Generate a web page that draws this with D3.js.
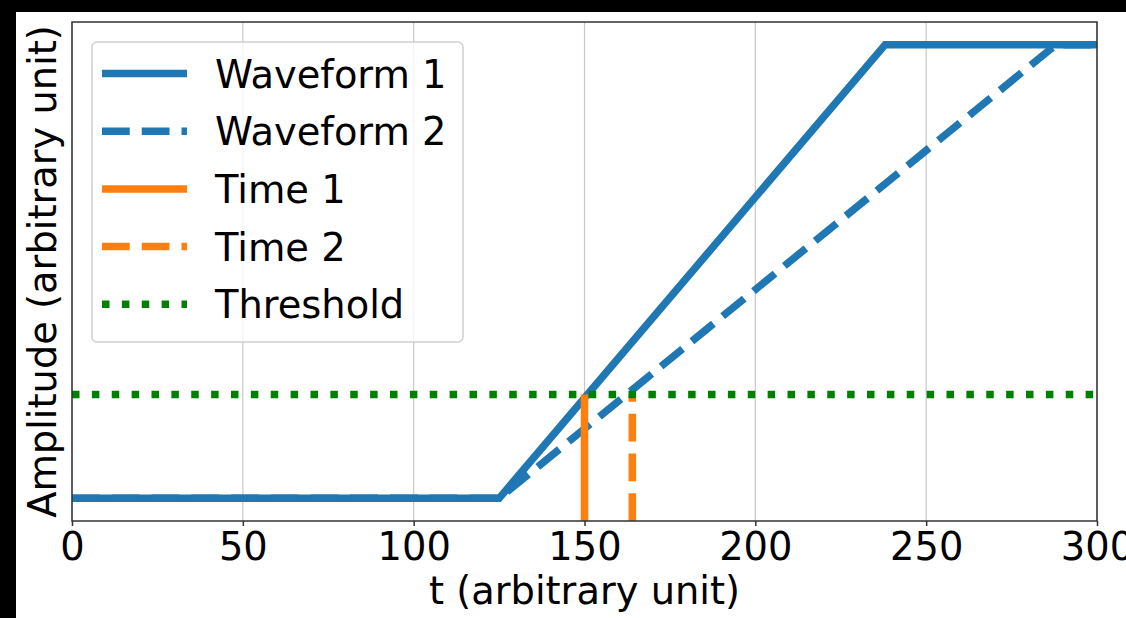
<!DOCTYPE html>
<html>
<head>
<meta charset="utf-8">
<script src="https://cdn.jsdelivr.net/npm/d3@7"></script>
<style>
  html, body { margin: 0; padding: 0; background: #000; }
  svg { display: block; }
</style>
</head>
<body>
<div id="chart"></div>
<script>
  // data
  const wave1T = [0, 125, 238, 300];
  const wave1A = [0, 0, 1, 1];
  const wave2T = [0, 125, 288, 300];
  const wave2A = [0, 0, 1, 1];
  const time1 = 150;
  const time2 = 164;
  const threshold = 0.229;
  const xTicks = [0, 50, 100, 150, 200, 250, 300];
  const legendLabels = ['Waveform 1', 'Waveform 2', 'Time 1', 'Time 2', 'Threshold'];

  const width = 1126;
  const height = 618;
  const [mt, mr, mb, ml] = [22, 29, 97, 72];
  const font = '"DejaVu Sans", sans-serif';
  const fs = '38.4px';
  const blue = '#1f77b4', orange = '#ff7f0e', green = '#008000';
  const lw = 7.5;

  const svg = d3.select('#chart')
    .append('svg')
    .attr('width', width)
    .attr('height', height)

  // white figure area
  svg.append('rect')
    .attr('x', 16).attr('y', 12)
    .attr('width', width - 16).attr('height', height - 12)
    .attr('fill', '#fff')

  const graphWidth = width - ml - mr;
  const graphHeight = height - mt - mb;

  const x = d3.scaleLinear().domain([0, 300]).range([ml, ml + graphWidth]);
  const y = d3.scaleLinear().domain([-0.05, 1.05]).range([mt + graphHeight, mt]);

  svg.append('clipPath').attr('id', 'clip')
    .append('rect')
    .attr('x', ml).attr('y', mt)
    .attr('width', graphWidth).attr('height', graphHeight)

  // grid
  svg.append('g')
    .selectAll('line')
    .data(xTicks)
    .join('line')
    .attr('x1', d => x(d)).attr('x2', d => x(d))
    .attr('y1', mt).attr('y2', mt + graphHeight)
    .attr('stroke', '#b0b0b0').attr('stroke-width', 1.2).attr('stroke-opacity', 0.7)

  const plot = svg.append('g').attr('clip-path', 'url(#clip)');

  const line = d3.line().x(d => x(d[0])).y(d => y(d[1]));

  plot.append('path')
    .attr('d', line(d3.zip(wave1T, wave1A)))
    .attr('fill', 'none').attr('stroke', blue).attr('stroke-width', lw)
  plot.append('path')
    .attr('d', line(d3.zip(wave2T, wave2A)))
    .attr('fill', 'none').attr('stroke', blue).attr('stroke-width', lw)
    .attr('stroke-dasharray', `${3.7 * lw},${1.6 * lw}`)

  plot.append('line')
    .attr('x1', x(time1)).attr('x2', x(time1))
    .attr('y1', y(-0.05)).attr('y2', y(threshold))
    .attr('stroke', orange).attr('stroke-width', lw)
  plot.append('line')
    .attr('x1', x(time2)).attr('x2', x(time2))
    .attr('y1', y(-0.05)).attr('y2', y(threshold))
    .attr('stroke', orange).attr('stroke-width', lw)
    .attr('stroke-dasharray', `${3.7 * lw},${1.6 * lw}`)

  plot.append('line')
    .attr('x1', x(0)).attr('x2', x(300))
    .attr('y1', y(threshold)).attr('y2', y(threshold))
    .attr('stroke', green).attr('stroke-width', lw)
    .attr('stroke-dasharray', `${1 * lw},${1.65 * lw}`)

  // frame
  svg.append('rect')
    .attr('x', ml).attr('y', mt)
    .attr('width', graphWidth).attr('height', graphHeight)
    .attr('fill', 'none').attr('stroke', '#333').attr('stroke-width', 1.5)

  // x axis
  const xAxisG = svg.append('g')
    .attr('transform', `translate(0,${mt + graphHeight})`)
    .call(d3.axisBottom(x).tickValues(xTicks).tickSize(5).tickPadding(7).tickSizeOuter(0))
  xAxisG.select('.domain').remove();
  xAxisG.selectAll('.tick line').attr('stroke', '#333').attr('stroke-width', 1.5);
  xAxisG.selectAll('.tick text')
    .attr('fill', '#000')
    .style('font-family', font)
    .style('font-size', fs)

  svg.append('text')
    .attr('x', ml + graphWidth / 2)
    .attr('y', 604)
    .attr('text-anchor', 'middle')
    .style('font-family', font).style('font-size', fs)
    .text('t (arbitrary unit)')

  svg.append('text')
    .attr('transform', `translate(56,${mt + graphHeight / 2}) rotate(-90)`)
    .attr('text-anchor', 'middle')
    .style('font-family', font).style('font-size', fs)
    .text('Amplitude (arbitrary unit)')

  // legend
  const legend = svg.append('g');
  legend.append('rect')
    .attr('x', 92).attr('y', 42)
    .attr('width', 371).attr('height', 300)
    .attr('rx', 5)
    .attr('fill', '#fff').attr('fill-opacity', 0.8)
    .attr('stroke', '#d0d0d0').attr('stroke-width', 1.5)

  const legendStyles = [
    { color: blue, dash: null },
    { color: blue, dash: `${3.7 * lw},${1.6 * lw}` },
    { color: orange, dash: null },
    { color: orange, dash: `${3.7 * lw},${1.6 * lw}` },
    { color: green, dash: `${1 * lw},${1.65 * lw}` }
  ];

  const rows = legend.selectAll('g')
    .data(legendLabels)
    .join('g')
    .attr('transform', (d, i) => `translate(0,${73.5 + i * 57.7})`)

  rows.append('line')
    .attr('x1', 102).attr('x2', 187)
    .attr('y1', 0).attr('y2', 0)
    .attr('stroke', (d, i) => legendStyles[i].color)
    .attr('stroke-width', lw)
    .attr('stroke-dasharray', (d, i) => legendStyles[i].dash)

  rows.append('text')
    .attr('x', 215)
    .attr('y', 14)
    .style('font-family', font).style('font-size', fs)
    .text(d => d)
</script>
</body>
</html>
